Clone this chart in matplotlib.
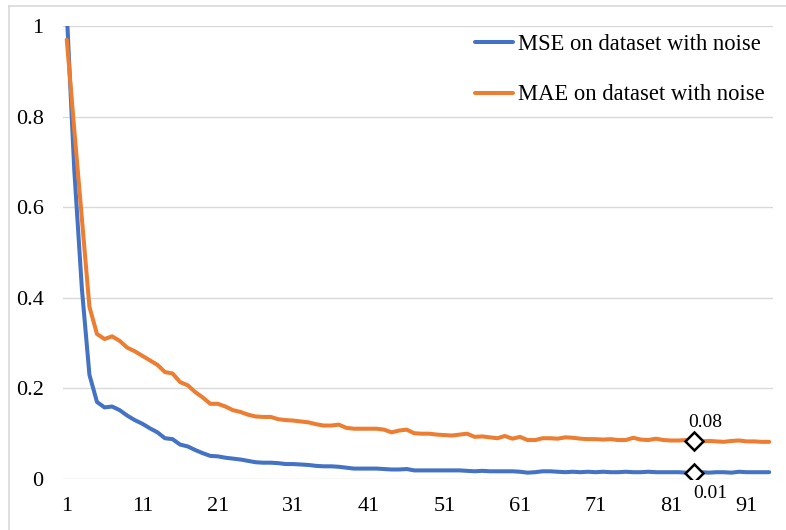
import numpy as np
import matplotlib
matplotlib.use("Agg")
import matplotlib.pyplot as plt
from matplotlib.lines import Line2D

plt.rcParams['font.family'] = ['Liberation Serif', 'DejaVu Serif']

# ---- data ----
mse = [1.03, 0.68, 0.42, 0.23, 0.17, 0.158, 0.16, 0.152, 0.14, 0.13,
       0.122, 0.112, 0.103, 0.09, 0.088, 0.076, 0.072, 0.064, 0.057, 0.051,
       0.05, 0.047, 0.045, 0.043, 0.04, 0.037, 0.036, 0.036, 0.035, 0.033,
       0.033, 0.032, 0.031, 0.029, 0.028, 0.028, 0.027, 0.025, 0.023, 0.023,
       0.023, 0.023, 0.022, 0.021, 0.021, 0.022, 0.019, 0.019, 0.019, 0.019,
       0.019, 0.019, 0.019, 0.018, 0.017, 0.018, 0.017, 0.017, 0.017, 0.017,
       0.016, 0.014, 0.015, 0.017, 0.017, 0.016, 0.015, 0.016, 0.015, 0.016,
       0.015, 0.016, 0.015, 0.015, 0.016, 0.015, 0.015, 0.016, 0.015, 0.015,
       0.015, 0.015, 0.014, 0.014, 0.015, 0.014, 0.015, 0.015, 0.014, 0.016,
       0.015, 0.015, 0.015, 0.015]
mae = [0.97, 0.77, 0.575, 0.38, 0.32, 0.309, 0.315, 0.305, 0.29, 0.282,
       0.272, 0.262, 0.252, 0.236, 0.233, 0.214, 0.207, 0.192, 0.18, 0.166,
       0.166, 0.16, 0.152, 0.148, 0.142, 0.138, 0.137, 0.137, 0.132, 0.13,
       0.129, 0.127, 0.125, 0.121, 0.118, 0.118, 0.12, 0.113, 0.111, 0.111,
       0.111, 0.111, 0.109, 0.103, 0.107, 0.109, 0.101, 0.1, 0.1, 0.098,
       0.097, 0.096, 0.098, 0.1, 0.093, 0.094, 0.092, 0.09, 0.095, 0.089,
       0.093, 0.086, 0.086, 0.09, 0.09, 0.089, 0.092, 0.091, 0.089, 0.088,
       0.088, 0.087, 0.088, 0.086, 0.086, 0.091, 0.087, 0.086, 0.089, 0.086,
       0.085, 0.085, 0.086, 0.084, 0.083, 0.084, 0.083, 0.082, 0.084, 0.085,
       0.083, 0.083, 0.082, 0.082]
epochs = np.arange(1, len(mse) + 1)
mark_epoch = 84
xticks = [1, 11, 21, 31, 41, 51, 61, 71, 81, 91]
yticks = [0, 0.2, 0.4, 0.6, 0.8, 1]

blue = '#4472C4'
orange = '#ED7D31'
grid = '#D9D9D9'

fig = plt.figure(figsize=(7.86, 5.30), dpi=100)
ax = fig.add_axes([63 / 786, 1 - 479 / 530, 710 / 786, 453 / 530])

for y in yticks:
    ax.axhline(y, color=grid, lw=1.0, zorder=0)

ax.plot(epochs, mse, color=blue, lw=2.9, solid_capstyle='round',
        solid_joinstyle='round', label='MSE on dataset with noise', zorder=3)
ax.plot(epochs, mae, color=orange, lw=2.9, solid_capstyle='round',
        solid_joinstyle='round', label='MAE on dataset with noise', zorder=3)

# highlighted points
i = mark_epoch - 1
ax.plot([mark_epoch, mark_epoch], [mse[i], mae[i]], linestyle='none',
        marker='D', ms=9, mfc='white', mec='black', mew=1.8, zorder=4)
ax.annotate(f"{mae[i]:.2f}", (mark_epoch, mae[i]), xytext=(8, 7),
            textcoords='offset points', ha='center', va='bottom', fontsize=14)
ax.annotate(f"{mse[i]:.2f}", (mark_epoch, mse[i]), xytext=(12, -9),
            textcoords='offset points', ha='center', va='top', fontsize=14)

ax.set_xlim(0.5, len(mse) + 0.5)
ax.set_ylim(0, 1)
ax.set_xticks(xticks)
ax.set_xticklabels([str(t) for t in xticks])
ax.set_yticks(yticks)
ax.set_yticklabels(['0', '0.2', '0.4', '0.6', '0.8', '1'])
ax.tick_params(axis='both', length=0, labelsize=16, colors='black')
ax.tick_params(axis='x', pad=13)
ax.tick_params(axis='y', pad=14)
for s in ax.spines.values():
    s.set_visible(False)

leg = ax.legend(loc='upper left', bbox_to_anchor=(475 / 786, 1 - 34 / 530),
                bbox_transform=fig.transFigure, frameon=False, fontsize=16.3,
                handlelength=1.7, handletextpad=0.2, labelspacing=1.3,
                borderpad=0, borderaxespad=0)

# chart-area border (clipped at right/bottom in the reference)
fig.add_artist(Line2D([9 / 786, 9 / 786], [0, 1 - 6 / 530], color=grid, lw=1.2))
fig.add_artist(Line2D([9 / 786, 1], [1 - 6 / 530, 1 - 6 / 530], color=grid, lw=1.2))

fig.savefig('out.png', dpi=100)
